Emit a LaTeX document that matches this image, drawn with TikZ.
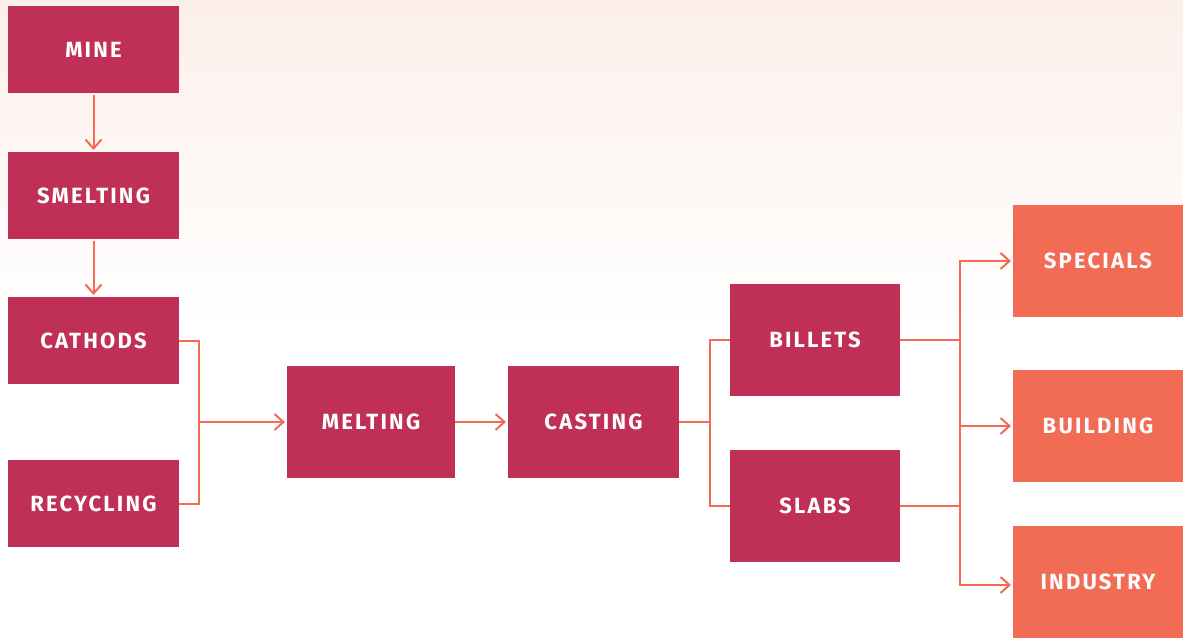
\documentclass[tikz,border=0pt]{standalone}
\usepackage{fontspec}
\setmainfont{Fira Sans}
\usetikzlibrary{arrows.meta,calc}
\definecolor{boxmag}{HTML}{C02F56}
\definecolor{boxorg}{HTML}{F26B55}
\definecolor{linec}{HTML}{F26C55}
\definecolor{bgtop}{HTML}{FCEFEA}
\tikzset{
  base/.style={inner sep=0pt, outer sep=0pt, text=white,
    font=\fontsize{22}{26}\selectfont\bfseries\addfontfeatures{LetterSpace=10}},
  magbox/.style={base, fill=boxmag, minimum width=171pt, minimum height=87pt},
  bigbox/.style={base, fill=boxmag, minimum width=170pt, minimum height=112pt},
  orgbox/.style={base, fill=boxorg, minimum width=170pt, minimum height=112pt},
  conn/.style={draw=linec, line width=2pt, line join=miter},
  arr/.style={conn, -{Straight Barb[length=9pt,width=16pt,line width=2pt]}},
}
\begin{document}
\begin{tikzpicture}[x=1pt,y=-1pt]
\useasboundingbox (0,0) rectangle (1183,637);
\fill[white] (0,0) rectangle (1183,637);
\shade[top color=bgtop, bottom color=white] (0,0) rectangle (1183,325);

\node[magbox] (mine) at (93.5,49.5) {MINE};
\node[magbox] (smelting) at (93.5,195.5) {SMELTING};
\node[magbox] (cathods) at (93.5,340.5) {CATHODS};
\node[magbox] (recycling) at (93.5,503.5) {RECYCLING};
\node[bigbox, minimum width=168pt] (melting) at (371,422) {MELTING};
\node[bigbox, minimum width=171pt] (casting) at (593.5,422) {CASTING};
\node[bigbox] (billets) at (815,339.5) {BILLETS};
\node[bigbox] (slabs) at (815,506) {SLABS};
\node[orgbox] (specials) at (1098,261) {SPECIALS};
\node[orgbox] (building) at (1098,426) {BUILDING};
\node[orgbox] (industry) at (1098,582) {INDUSTRY};

\draw[arr] ([yshift=-2pt]mine.south) -- ([yshift=2pt]smelting.north);
\draw[arr] ([yshift=-2pt]smelting.south) -- ([yshift=2pt]cathods.north);

\coordinate (j1) at (199,422);
\draw[conn] (cathods.east) -| (j1) |- (recycling.east);
\draw[arr] (j1) -- ([xshift=-2pt]melting.west);
\draw[arr] (melting.east) -- ([xshift=-2pt]casting.west);

\coordinate (j2) at (710,422);
\draw[conn] (casting.east) -- (j2);
\draw[conn] (billets.west) -| (j2) |- (slabs.west);

\coordinate (j3) at (960,426);
\draw[conn] (billets.east) -- (billets.east -| j3);
\draw[conn] (slabs.east) -- (slabs.east -| j3);
\draw[arr] (j3) |- ([xshift=-2pt]specials.west);
\draw[arr] (j3) -- ([xshift=-2pt]building.west);
\draw[arr] (j3) |- ([xshift=-2pt,yshift=-3pt]industry.west);
\end{tikzpicture}
\end{document}
